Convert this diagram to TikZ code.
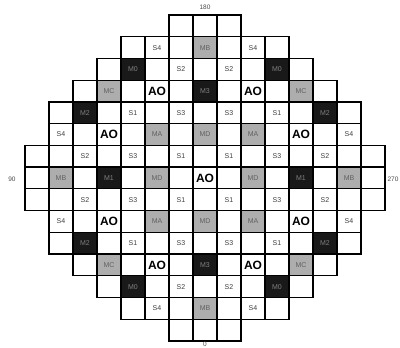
\documentclass[tikz,border=0pt]{standalone}
\usepackage{fontspec}
\setmainfont{Liberation Sans}
\begin{document}
\begin{tikzpicture}[x=1pt,y=-1pt,
  cell/.style={draw=black,line width=1.3pt,minimum width=24pt,minimum height=21.73pt,inner sep=0pt,anchor=center},
  bk/.style={cell,fill=black!90,text=black!50,font=\fontsize{7}{8}\selectfont},
  gr/.style={cell,fill=black!32,text=black!62,font=\fontsize{7}{8}\selectfont},
  sl/.style={cell,text=black!75,font=\fontsize{7}{8}\selectfont},
  ao/.style={cell,text=black,font=\bfseries\fontsize{12}{13}\selectfont},
  axl/.style={font=\fontsize{6.5}{7}\selectfont,text=black!70,inner sep=0pt}]
\useasboundingbox (0,0) rectangle (400,348);
\fill[white] (0,0) rectangle (400,348);
% empty grid cells
\foreach \r/\a/\b in {1/7/9,2/5/11,3/4/12,4/3/13,5/2/14,6/2/14,7/1/15,8/1/15,9/1/15,10/2/14,11/2/14,12/3/13,13/4/12,14/5/11,15/7/9}{
  \foreach \c in {\a,...,\b}{
    \node[cell] (g\r-\c) at ({13+24*\c},{4.135+21.73*\r}) {};
  }
}
% labelled cells
\foreach \r/\c/\t/\s in {
  2/6/S4/sl, 2/8/MB/gr, 2/10/S4/sl,
  3/5/M0/bk, 3/7/S2/sl, 3/9/S2/sl, 3/11/M0/bk,
  4/4/MC/gr, 4/6/AO/ao, 4/8/M3/bk, 4/10/AO/ao, 4/12/MC/gr,
  5/3/M2/bk, 5/5/S1/sl, 5/7/S3/sl, 5/9/S3/sl, 5/11/S1/sl, 5/13/M2/bk,
  6/2/S4/sl, 6/4/AO/ao, 6/6/MA/gr, 6/8/MD/gr, 6/10/MA/gr, 6/12/AO/ao, 6/14/S4/sl,
  7/3/S2/sl, 7/5/S3/sl, 7/7/S1/sl, 7/9/S1/sl, 7/11/S3/sl, 7/13/S2/sl,
  8/2/MB/gr, 8/4/M1/bk, 8/6/MD/gr, 8/8/AO/ao, 8/10/MD/gr, 8/12/M1/bk, 8/14/MB/gr,
  9/3/S2/sl, 9/5/S3/sl, 9/7/S1/sl, 9/9/S1/sl, 9/11/S3/sl, 9/13/S2/sl,
  10/2/S4/sl, 10/4/AO/ao, 10/6/MA/gr, 10/8/MD/gr, 10/10/MA/gr, 10/12/AO/ao, 10/14/S4/sl,
  11/3/M2/bk, 11/5/S1/sl, 11/7/S3/sl, 11/9/S3/sl, 11/11/S1/sl, 11/13/M2/bk,
  12/4/MC/gr, 12/6/AO/ao, 12/8/M3/bk, 12/10/AO/ao, 12/12/MC/gr,
  13/5/M0/bk, 13/7/S2/sl, 13/9/S2/sl, 13/11/M0/bk,
  14/6/S4/sl, 14/8/MB/gr, 14/10/S4/sl}{
  \node[\s] (l\r-\c) at ({13+24*\c},{4.135+21.73*\r}) {\t};
}
% axis labels
\node[axl] (t180) at (205,7) {180};
\node[axl] (t0) at (205,344) {0};
\node[axl] (t90) at (12,179) {90};
\node[axl] (t270) at (393,179) {270};
\end{tikzpicture}
\end{document}
